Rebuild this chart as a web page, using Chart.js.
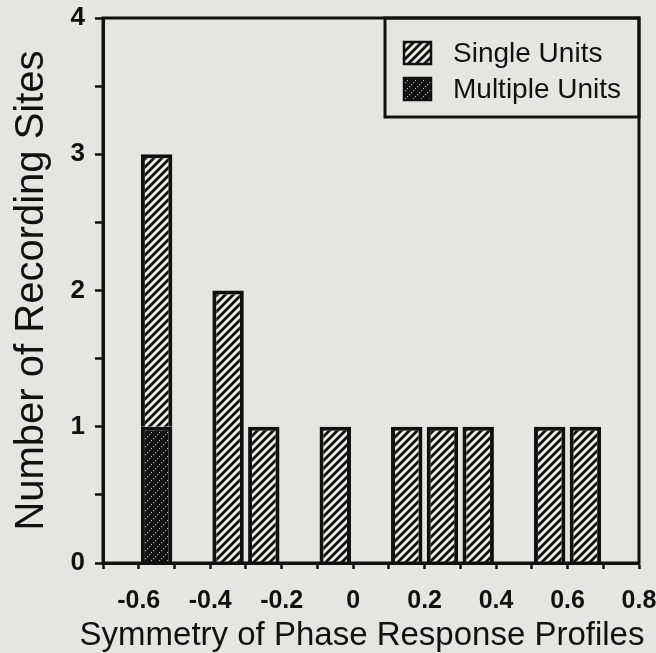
<!DOCTYPE html>
<html><head><meta charset="utf-8">
<script src="https://cdn.jsdelivr.net/npm/chart.js@4.4.1/dist/chart.umd.min.js"></script>
<style>
html,body{margin:0;padding:0;background:#e5e5e3;}
#wrap{width:656px;height:653px;position:relative;}
canvas{display:block;}
</style></head><body>
<div id="wrap"><canvas id="c" width="656" height="653"></canvas></div>
<script>
// ---- data ----
const binCenters = [-0.55, -0.35, -0.25, -0.05, 0.15, 0.25, 0.35, 0.55, 0.65];
const singleUnits = [2, 2, 1, 1, 1, 1, 1, 1, 1];
const multipleUnits = [1, 0, 0, 0, 0, 0, 0, 0, 0];
const seriesNames = ['Single Units', 'Multiple Units'];
const xTickValues = [-0.6, -0.4, -0.2, 0, 0.2, 0.4, 0.6, 0.8];
const xTickLabels = ['-0.6', '-0.4', '-0.2', '0', '0.2', '0.4', '0.6', '0.8'];
const yTickValues = [0, 1, 2, 3, 4];
const yTickLabels = ['0', '1', '2', '3', '4'];
const xTitle = 'Symmetry of Phase Response Profiles';
const yTitle = 'Number of Recording Sites';

// ---- style ----
const ink = '#111111';
const family = '"Liberation Sans", Arial, Helvetica, sans-serif';
const canvas = document.getElementById('c');
const mainCtx = canvas.getContext('2d');

function hatchPattern() {
  const c = document.createElement('canvas'); c.width = 8; c.height = 8;
  const g = c.getContext('2d');
  g.fillStyle = '#ebebe9'; g.fillRect(0, 0, 8, 8);
  g.strokeStyle = ink; g.lineWidth = 2.8;
  g.beginPath();
  g.moveTo(-2, 10); g.lineTo(10, -2);
  g.moveTo(-6, 6); g.lineTo(6, -6);
  g.moveTo(2, 14); g.lineTo(14, 2);
  g.stroke();
  return mainCtx.createPattern(c, 'repeat');
}
function stipplePattern() {
  const c = document.createElement('canvas'); c.width = 8; c.height = 8;
  const g = c.getContext('2d');
  g.fillStyle = ink; g.fillRect(0, 0, 8, 8);
  g.fillStyle = '#b8b8b6';
  [[1, 6], [3, 4], [5, 2], [7, 0]].forEach(p => g.fillRect(p[0], p[1], 1.2, 1.2));
  return mainCtx.createPattern(c, 'repeat');
}

function labelFor(v, vals, labs) {
  for (let i = 0; i < vals.length; i++) if (Math.abs(v - vals[i]) < 1e-6) return labs[i];
  return '';
}

const insetLegend = {
  id: 'insetLegend',
  afterDatasetsDraw(chart, args, o) {
    const { ctx, chartArea: a } = chart;
    ctx.save();
    ctx.strokeStyle = ink;
    ctx.lineWidth = 3;
    ctx.strokeRect(a.left, a.top, a.right - a.left, a.bottom - a.top);
    ctx.strokeRect(o.left, a.top, a.right - o.left, o.bottom - a.top);
    ctx.font = o.fontSize + 'px ' + family;
    ctx.textBaseline = 'middle';
    ctx.textAlign = 'left';
    const ds = chart.data.datasets.slice().reverse();
    ds.forEach((d, i) => {
      const cy = o.firstRowY + i * o.rowGap;
      ctx.fillStyle = d.backgroundColor;
      ctx.fillRect(o.swatchX, cy - o.swatchH / 2, o.swatchW, o.swatchH);
      ctx.lineWidth = 2.5;
      ctx.strokeRect(o.swatchX, cy - o.swatchH / 2, o.swatchW, o.swatchH);
      ctx.fillStyle = ink;
      ctx.fillText(d.label, o.textX, cy + 1);
    });
    ctx.restore();
  }
};

// x-axis title drawn without the scale's width limit (it is wider than the plot)
const xAxisTitle = {
  id: 'xAxisTitle',
  afterDraw(chart, args, o) {
    const ctx = chart.ctx;
    ctx.save();
    ctx.font = o.size + 'px ' + family;
    ctx.fillStyle = ink;
    ctx.textAlign = 'center';
    ctx.textBaseline = 'middle';
    ctx.fillText(o.text, o.x, o.y);
    ctx.restore();
  }
};

new Chart(canvas, {
  type: 'bar',
  data: {
    datasets: [
      {
        label: seriesNames[1],
        data: binCenters.map((x, i) => ({ x: x, y: multipleUnits[i] })),
        backgroundColor: stipplePattern(),
        borderColor: ink, borderWidth: 4,
        barPercentage: 0.88, categoryPercentage: 1
      },
      {
        label: seriesNames[0],
        data: binCenters.map((x, i) => ({ x: x, y: singleUnits[i] })),
        backgroundColor: hatchPattern(),
        borderColor: ink, borderWidth: 4,
        barPercentage: 0.88, categoryPercentage: 1
      }
    ]
  },
  options: {
    responsive: false,
    animation: false,
    layout: { padding: { top: 18, right: 17, bottom: 0, left: 0 } },
    plugins: {
      legend: { display: false },
      tooltip: { enabled: false },
      insetLegend: { left: 385, bottom: 117, swatchX: 404, swatchW: 27, swatchH: 22,
        textX: 453, firstRowY: 53, rowGap: 36, fontSize: 28 },
      xAxisTitle: { text: xTitle, x: 362, y: 636, size: 33 }
    },
    scales: {
      x: {
        type: 'linear', stacked: true, min: -0.7, max: 0.8, offset: false,
        grid: { display: true, offset: false, drawOnChartArea: false, drawTicks: true,
          tickLength: 6, tickWidth: 2.5, tickColor: ink },
        border: { display: true, color: ink, width: 3 },
        ticks: { stepSize: 0.1, autoSkip: false, maxRotation: 0, minRotation: 0,
          padding: 17, color: ink, font: { family: family, size: 25, weight: 'bold' },
          callback: v => labelFor(v, xTickValues, xTickLabels) },
        title: { display: false },
        afterFit: s => { s.height = 90; s.paddingLeft = 0; s.paddingRight = 0; }
      },
      y: {
        stacked: true, min: 0, max: 4,
        grid: { display: true, drawOnChartArea: false, drawTicks: true,
          tickLength: 8, tickWidth: 2.5, tickColor: ink },
        border: { display: true, color: ink, width: 3 },
        ticks: { stepSize: 0.5, padding: 10, color: ink, font: { family: family, size: 26, weight: 'bold' },
          callback: v => labelFor(v, yTickValues, yTickLabels) },
        title: { display: true, text: yTitle, color: ink,
          font: { family: family, size: 40, lineHeight: 1 }, padding: { top: 12, bottom: 0 } },
        afterFit: s => { s.width = 103; s.paddingTop = 0; s.paddingBottom = 0; }
      }
    }
  },
  plugins: [insetLegend, xAxisTitle]
});
</script>
</body></html>
